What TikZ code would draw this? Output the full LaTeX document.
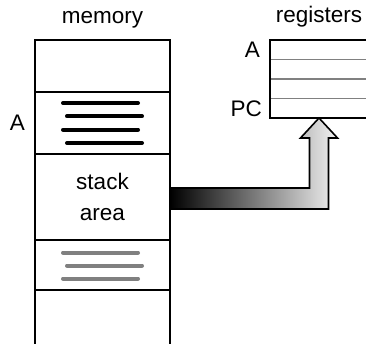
\documentclass[tikz,border=0pt]{standalone}
\usepackage{fontspec}
\setmainfont{Liberation Sans}
\usetikzlibrary{positioning,calc}

\tikzset{
  cell/.style={draw, line width=1.6pt, minimum width=135pt, inner sep=0pt, outer sep=0pt},
  lbl/.style={font=\fontsize{22.5}{31}\selectfont, text=black, inner sep=0pt},
  blackbar/.style={line width=4pt, line cap=round},
  graybar/.style={line width=4pt, line cap=round, draw=gray},
  regline/.style={line width=1.2pt, draw=gray},
}

\begin{document}
\begin{tikzpicture}[x=1pt,y=-1pt]
\useasboundingbox (0,0) rectangle (366,344);

% Memory cells
\node[cell, minimum height=52pt, anchor=north west] (top) at (35,40) {};
\node[cell, minimum height=62pt, below=0pt of top] (cellA) {};
\node[cell, minimum height=86pt, below=0pt of cellA, lbl, align=center] (stack) {stack\\area};
\node[cell, minimum height=50pt, below=0pt of stack] (cellB) {};
\node[cell, minimum height=80pt, below=0pt of cellB] (bottom) {};

% Data in memory
\foreach \dy/\dx in {-20/-2, -6.7/2, 6.7/-2, 20/2}
  \draw[blackbar] ($(cellA.center)+(\dx-37.5,\dy)$) -- ($(cellA.center)+(\dx+37.5,\dy)$);
\foreach \dy/\dx in {-12.5/-2, 0.5/2, 13.5/-2}
  \draw[graybar] ($(cellB.center)+(\dx-37.5,\dy)$) -- ($(cellB.center)+(\dx+37.5,\dy)$);

% Registers
\node[minimum width=98pt, minimum height=78pt, anchor=north west, inner sep=0pt, outer sep=0pt] (regs) at (270,40) {};
\foreach \k in {1,2,3}
  \draw[regline] ($(regs.north west)!\k/4!(regs.south west)$) -- ($(regs.north east)!\k/4!(regs.south east)$);
\draw[line width=1.6pt] (regs.north west) rectangle (regs.south east);

% Labels
\node[lbl, anchor=base] (memlbl) at ($(top.north)+(0,-16)$) {memory};
\node[lbl, anchor=base] (reglbl) at ($(regs.north)+(0,-17)$) {registers};
\node[lbl, anchor=base east] (memA) at ($(cellA.west)+(-10,8)$) {A};
\node[lbl, anchor=base east] (regA) at ($(regs.north west)+(-10,18)$) {A};
\node[lbl, anchor=base east] (regPC) at ($(regs.south west)+(-8,-1)$) {PC};

% Arrow from stack area to registers
\path[draw, line width=1.6pt, left color=black, right color=gray!10]
  ($(stack.east)+(0,-9)$) -| ($(regs.south)+(-9.5,20)$) -- ++(-9,0) -- (regs.south)
  -- ++(18.5,20) -- ++(-9,0) |- ($(stack.east)+(0,12)$) -- cycle;

\end{tikzpicture}
\end{document}
